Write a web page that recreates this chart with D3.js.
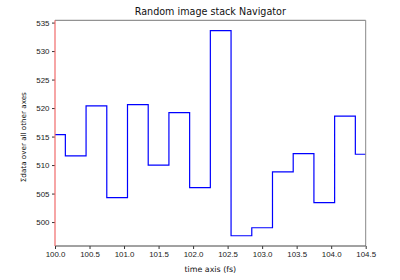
<!DOCTYPE html>
<html>
<head>
<meta charset="utf-8">
<script src="https://cdn.jsdelivr.net/npm/d3@7"></script>
<style>
  body { margin: 0; background: #fff; }
  svg { display: block; font-family: "DejaVu Sans", sans-serif; }
  .tick text { font-size: 7.9px; fill: #222; }
  .tick line { stroke: #333; }
</style>
</head>
<body>
<svg class="chart"></svg>
<script>
// time samples (fs) and summed intensity
var times = [100.0, 100.3, 100.6, 100.9, 101.2, 101.5, 101.8, 102.1,
             102.4, 102.7, 103.0, 103.3, 103.6, 103.9, 104.2, 104.5];
var sums = [515.35, 511.6, 520.4, 504.3, 520.6, 510.0, 519.2, 506.05,
            533.6, 497.6, 499.0, 508.8, 512.0, 503.4, 518.6, 511.9];
var xTicks = [100.0, 100.5, 101.0, 101.5, 102.0, 102.5, 103.0, 103.5, 104.0, 104.5];
var yTicks = [500, 505, 510, 515, 520, 525, 530, 535];

var margin = {top: 20.3, bottom: 34, right: 34.3, left: 55},
    width = 400 - margin.left - margin.right,
    height = 280 - margin.top - margin.bottom;

var svg = d3.select(".chart")
    .attr("width", 400)
    .attr("height", 280);

var chart = svg.append("g")
    .attr("transform", "translate(" + margin.left + "," + margin.top + ")");

// matplotlib-style 5% padding on y
var yMin = d3.min(sums), yMax = d3.max(sums), pad = (yMax - yMin) * 0.05;

var x = d3.scaleLinear().domain([100.0, 104.5]).range([0, width]);
var y = d3.scaleLinear().domain([yMin - pad, yMax + pad]).range([height, 0]);

var line = d3.line()
    .x(function(d, i) { return x(times[i]); })
    .y(function(d) { return y(d); })
    .curve(d3.curveStep);

chart.append("path")
    .datum(sums)
    .attr("d", line)
    .attr("fill", "none")
    .attr("stroke", "#0000ff")
    .attr("stroke-width", 1.2);

var xAxis = chart.append("g")
    .attr("transform", "translate(0," + height + ")")
    .call(d3.axisBottom(x).tickValues(xTicks).tickFormat(d3.format(".1f")).tickSize(3).tickPadding(2.5));
var yAxis = chart.append("g")
    .call(d3.axisLeft(y).tickValues(yTicks).tickSize(3).tickPadding(2.5));

xAxis.select(".domain").remove();
yAxis.select(".domain").remove();

// spines
chart.append("line").attr("x1", 0).attr("x2", width).attr("y1", 0).attr("y2", 0)
    .attr("stroke", "#777").attr("stroke-width", 1);
chart.append("line").attr("x1", width).attr("x2", width).attr("y1", 0).attr("y2", height)
    .attr("stroke", "#888").attr("stroke-width", 1);
chart.append("line").attr("x1", 0).attr("x2", width).attr("y1", height).attr("y2", height)
    .attr("stroke", "#444").attr("stroke-width", 1);
chart.append("line").attr("x1", 0).attr("x2", 0).attr("y1", 0).attr("y2", height)
    .attr("stroke", "#f06a6a").attr("stroke-width", 1.2);

svg.append("text")
    .attr("x", margin.left + width / 2)
    .attr("y", 15)
    .attr("text-anchor", "middle")
    .style("font-size", "9.6px")
    .style("fill", "#111")
    .text("Random image stack Navigator");

svg.append("text")
    .attr("x", margin.left + width / 2)
    .attr("y", 272)
    .attr("text-anchor", "middle")
    .style("font-size", "7.9px")
    .style("fill", "#111")
    .text("time axis (fs)");

svg.append("text")
    .attr("transform", "translate(25.5," + (margin.top + height / 2 + 4) + ") rotate(-90)")
    .attr("text-anchor", "middle")
    .style("font-size", "7.2px")
    .style("fill", "#111")
    .text("Σdata over all other axes");
</script>
</body>
</html>
